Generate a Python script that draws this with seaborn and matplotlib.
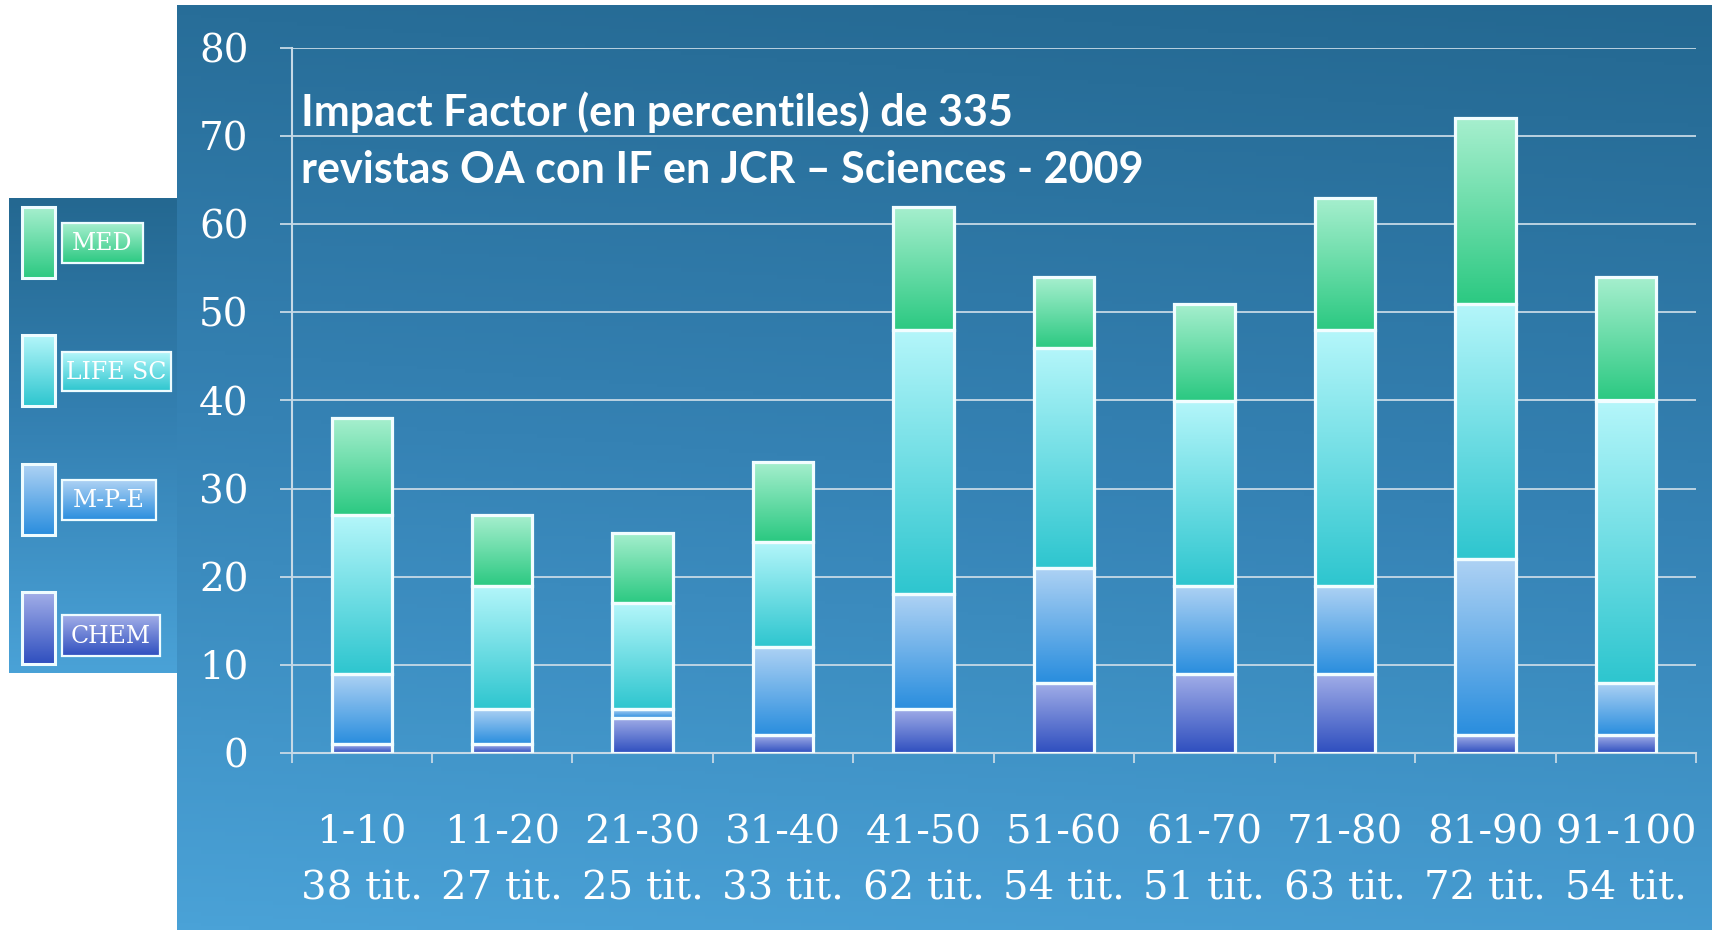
import numpy as np
import pandas as pd
import matplotlib.pyplot as plt
import seaborn as sns
from matplotlib.colors import LinearSegmentedColormap
from matplotlib.patches import Rectangle

# data
categories = ['1-10', '11-20', '21-30', '31-40', '41-50',
              '51-60', '61-70', '71-80', '81-90', '91-100']
titles = ['38 tit.', '27 tit.', '25 tit.', '33 tit.', '62 tit.',
          '54 tit.', '51 tit.', '63 tit.', '72 tit.', '54 tit.']
chem = [1, 1, 4, 2, 5, 8, 9, 9, 2, 2]
mpe = [8, 4, 1, 10, 13, 13, 10, 10, 20, 6]
life = [18, 14, 12, 12, 30, 25, 21, 29, 29, 32]
med = [11, 8, 8, 9, 14, 8, 11, 15, 21, 14]
series = ['CHEM', 'M-P-E', 'LIFE SC', 'MED']
yticks = [0, 10, 20, 30, 40, 50, 60, 70, 80]

title = 'Impact Factor (en percentiles) de 335\nrevistas OA con IF en JCR \u2013 Sciences - 2009'

# light top -> saturated bottom for each series
grad_colors = {
    'MED': ('#a6efce', '#2cc982'),
    'LIFE SC': ('#b4f6fa', '#2ec6cf'),
    'M-P-E': ('#aed2f4', '#2a8ede'),
    'CHEM': ('#a2aee8', '#2f4fbf'),
}

###########################
### DATA FRAME
###########################
labels = [c + '\n' + t for c, t in zip(categories, titles)]
values = {'CHEM': chem, 'M-P-E': mpe, 'LIFE SC': life, 'MED': med}
rows = []
bottom = np.zeros(len(categories))
for s in series:
    for i, lab in enumerate(labels):
        rows.append({'label': lab, 'series': s, 'value': values[s][i],
                     'bottom': bottom[i], 'top': bottom[i] + values[s][i]})
    bottom = bottom + np.array(values[s])
df = pd.DataFrame(rows)

###########################
### FIGURE
###########################
sns.set_style('white')
plt.rcParams['font.family'] = ['DejaVu Serif']

W, H = 1712, 930
fig = plt.figure(figsize=(W / 100, H / 100), dpi=100)
fig.patch.set_facecolor('white')

# blue gradient panel
bg_cmap = LinearSegmentedColormap.from_list('bg', ['#246891', '#3582b4', '#4aa2d7'])
bg = fig.add_axes([177 / W, 0, 1 - 177 / W, 1 - 5 / H], zorder=0)
gy = np.linspace(0, 1, 256)[:, None]
gx = np.linspace(0, 1, 64)[None, :]
bg.imshow(gy - 0.12 * gx, cmap=bg_cmap, aspect='auto', extent=[0, 1, 1, 0], vmin=-0.12, vmax=1)
bg.set_axis_off()

ax = fig.add_axes([291.5 / W, 177 / H, (1696 - 291.5) / W, (753 - 48) / H], zorder=2)
ax.set_facecolor('none')

for s in series:
    sns.barplot(data=df[df['series'] == s], x='label', y='top', order=labels,
                width=0.43, color=grad_colors[s][1], ax=ax)

# turn the cumulative bars into stacked segments with a gradient fill
for k, s in enumerate(series):
    sub = df[df['series'] == s].reset_index(drop=True)
    cmap = LinearSegmentedColormap.from_list(s, [grad_colors[s][1], grad_colors[s][0]])
    for i, p in enumerate(ax.patches[k * len(labels):(k + 1) * len(labels)]):
        p.set_y(sub.loc[i, 'bottom'])
        p.set_height(sub.loc[i, 'value'])
        p.set_facecolor('none')
        p.set_edgecolor('#f2fdff')
        p.set_linewidth(2.3)
        p.set_zorder(4)
        x0, x1 = p.get_x(), p.get_x() + p.get_width()
        y0, y1 = p.get_y(), p.get_y() + p.get_height()
        im = ax.imshow(np.linspace(0, 1, 100)[:, None], cmap=cmap, origin='lower',
                       extent=[x0, x1, y0, y1], aspect='auto', zorder=3)
        im.set_clip_path(p)

ax.set_xlim(-0.5, len(labels) - 0.5)
ax.set_ylim(0, 80)
ax.set_yticks(yticks)
ax.set_xlabel('')
ax.set_ylabel('')

line_c = '#c6d9e6'
ax.yaxis.grid(True, color=line_c, linewidth=1.3)
ax.set_axisbelow(True)
for side in ['top', 'right']:
    ax.spines[side].set_visible(False)
for side in ['left', 'bottom']:
    ax.spines[side].set_color(line_c)
    ax.spines[side].set_linewidth(1.5)

ax.tick_params(axis='y', length=9, width=1.3, color=line_c, pad=22,
               labelsize=28, labelcolor='white', direction='out', left=True)
ax.tick_params(axis='x', length=0, pad=44, labelsize=29, labelcolor='white')
ax.set_xticks(np.arange(-0.5, len(labels), 1.0), minor=True)
ax.tick_params(axis='x', which='minor', length=7, width=1.3, color=line_c, direction='out', bottom=True)
for t in ax.get_xticklabels():
    t.set_linespacing(1.68)

ax.text(0.007, 0.938, title, transform=ax.transAxes, ha='left', va='top',
        color='white', fontsize=31, fontweight='bold', family=['Lato', 'DejaVu Sans'],
        linespacing=1.5, zorder=6)

###########################
### LEGEND (left box)
###########################
lg = fig.add_axes([9 / W, (H - 673) / H, 168 / W, 475 / H], zorder=1)
lg.set_xlim(9, 177)
lg.set_ylim(673, 198)
lg.imshow(gy, cmap=bg_cmap, aspect='auto', extent=[9, 177, 673, 198], origin='upper')
lg.set_axis_off()

legend_layout = {
    'MED': ((207, 278), (223, 263, 143)),
    'LIFE SC': ((335, 406), (352, 391, 171)),
    'M-P-E': ((464, 535), (480, 520, 156)),
    'CHEM': ((592, 664), (615, 656, 160)),
}
for s in series:
    (sy0, sy1), (ly0, ly1, lx1) = legend_layout[s]
    cmap = LinearSegmentedColormap.from_list(s, [grad_colors[s][0], grad_colors[s][1]])
    for (rx0, rx1, ry0, ry1, lw) in [(22, 55, sy0, sy1, 2.2), (62, lx1, ly0, ly1, 1.6)]:
        r = Rectangle((rx0, ry0), rx1 - rx0, ry1 - ry0, facecolor='none',
                      edgecolor='#eefcff', linewidth=lw, zorder=4)
        lg.add_patch(r)
        im = lg.imshow(np.linspace(0, 1, 100)[:, None], cmap=cmap, origin='upper',
                       extent=[rx0, rx1, ry1, ry0], aspect='auto', zorder=3)
        im.set_clip_path(r)
    lg.text((62 + lx1) / 2, (ly0 + ly1) / 2 + 1, s, ha='center', va='center',
            color='white', fontsize=17, zorder=5)
lg.set_xlim(9, 177)
lg.set_ylim(673, 198)

plt.savefig('out.png', dpi=100, facecolor=fig.get_facecolor())
plt.close()
